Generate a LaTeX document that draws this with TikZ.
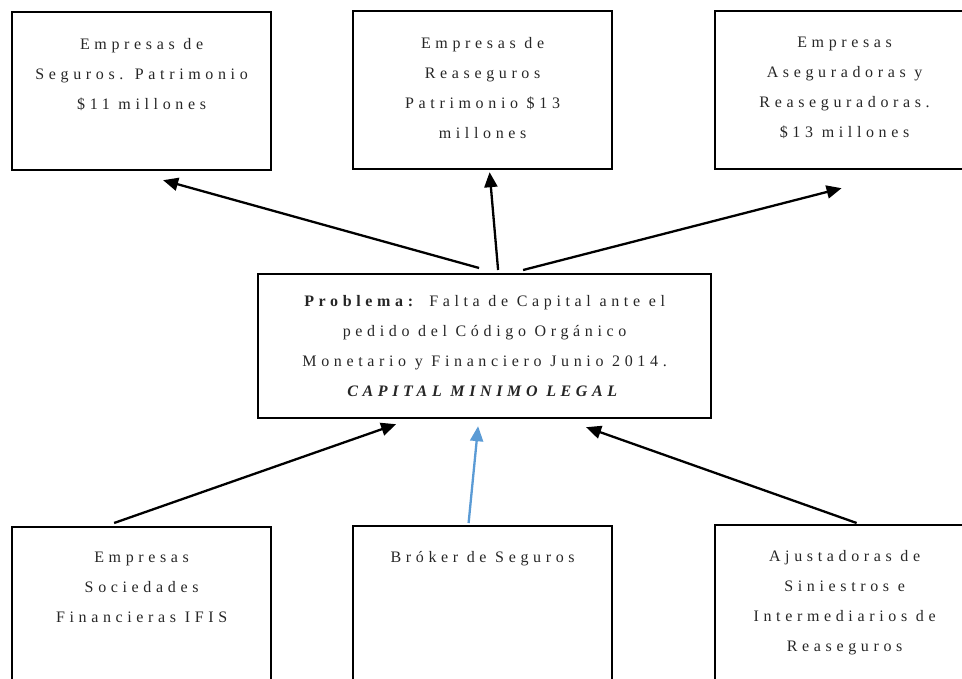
\documentclass[tikz,border=0pt]{standalone}
\usepackage{fontspec}
\setmainfont{Liberation Serif}[LetterSpace=29]
\usetikzlibrary{arrows.meta,calc}
\definecolor{arrblue}{HTML}{5B9BD5}
\begin{document}
\begin{tikzpicture}[x=1pt,y=-1pt,
  box/.style={draw=black,line width=2.2pt,minimum width=259pt,minimum height=158pt,inner sep=0pt,anchor=north west},
  txt/.style={align=center,inner sep=0pt,anchor=north,font=\fontsize{16}{30}\selectfont,text=black!85},
  arr/.style={line width=2.3pt,-{Triangle[length=15pt,width=13pt]}}]
\useasboundingbox (0,0) rectangle (962,679);
\clip (0,0) rectangle (962,679);
% top boxes
\node[box] (tl) at (11,11) {};
\node[box] (tm) at (352,10) {};
\node[box] (tr) at (714,10) {};
% centre box
\node[box,minimum width=453pt,minimum height=144pt] (c) at (257,273) {};
% bottom boxes
\node[box] (bl) at (11,526) {};
\node[box] (bm) at (352,525) {};
\node[box] (br) at (714,524) {};
% texts
\node[txt] (tlt) at ([yshift=-27pt]tl.north) {Empresas de\\Seguros. Patrimonio\\\$11 millones};
\node[txt] (tmt) at ([yshift=-27pt]tm.north) {Empresas de\\Reaseguros\\Patrimonio \$13\\millones};
\node[txt] (trt) at ([yshift=-27pt]tr.north) {Empresas\\Aseguradoras y\\Reaseguradoras.\\\$13 millones};
\node[txt] (ct) at ([yshift=-22pt]c.north) {\textbf{Problema:} Falta de Capital ante el\\pedido del Código Orgánico\\Monetario y Financiero Junio 2014.\\\textbf{\textit{CAPITAL MINIMO LEGAL}}};
\node[txt] (blt) at ([yshift=-26pt]bl.north) {Empresas\\Sociedades\\Financieras IFIS};
\node[txt] (bmt) at ([yshift=-26pt]bm.north) {Bróker de Seguros};
\node[txt] (brt) at ([yshift=-26pt]br.north) {Ajustadoras de\\Siniestros e\\Intermediarios de\\Reaseguros};
% arrows
\draw[arr] ([shift={(-5.5,-5)}]c.north) -- ([shift={(21.5,9)}]tl.south);
\draw[arr] ([shift={(13.5,-3)}]c.north) -- ([shift={(7,2)}]tm.south);
\draw[arr] ([shift={(38.5,-3)}]c.north) -- ([shift={(-3,18)}]tr.south);
\draw[arr] ([shift={(-27.5,-3)}]bl.north) -- ([shift={(-88.5,5)}]c.south);
\draw[arr,draw=arrblue,fill=arrblue] ([shift={(-14,-2)}]bm.north) -- ([shift={(-6.5,7)}]c.south);
\draw[arr] ([shift={(12,-1)}]br.north) -- ([shift={(101.5,8)}]c.south);
\end{tikzpicture}
\end{document}
